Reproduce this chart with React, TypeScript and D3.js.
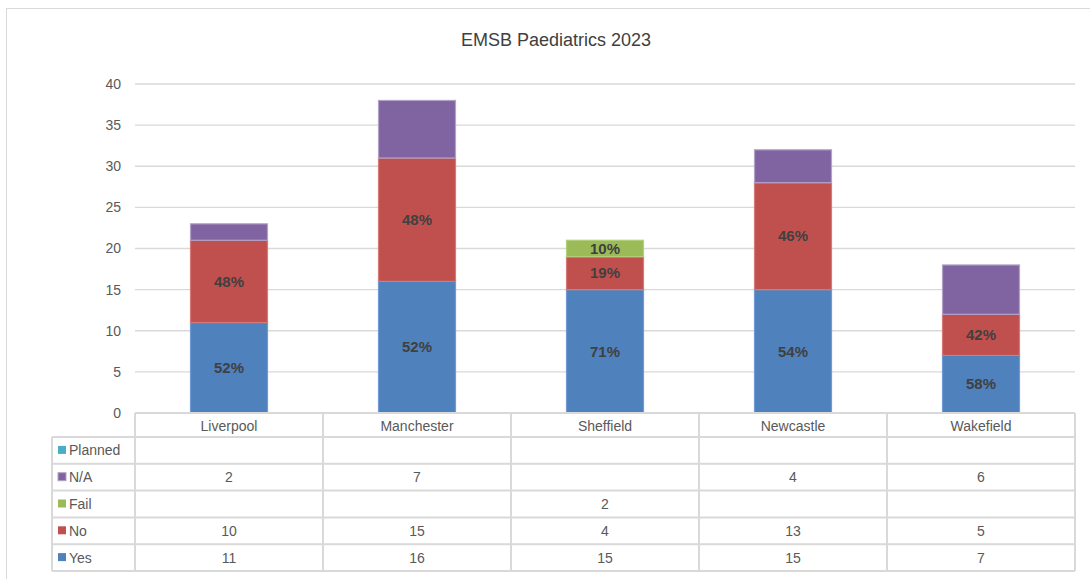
import * as d3 from 'd3';

const categories = ['Liverpool', 'Manchester', 'Sheffield', 'Newcastle', 'Wakefield'];
const yes = [11, 16, 15, 15, 7];
const no = [10, 15, 4, 13, 5];
const fail = [0, 0, 2, 0, 0];
const na = [2, 7, 0, 4, 6];
const planned = [0, 0, 0, 0, 0];
const yTicks = [0, 5, 10, 15, 20, 25, 30, 35, 40];

// stacking order bottom -> top
const series = [
  { name: 'Yes', values: yes, color: '#4F81BD', stroke: '#6F9AD3', pct: true },
  { name: 'No', values: no, color: '#C0504D', stroke: '#D67A77', pct: true },
  { name: 'Fail', values: fail, color: '#9BBB59', stroke: '#B2CF7A', pct: true },
  { name: 'N/A', values: na, color: '#8064A2', stroke: '#B3A2C7', pct: false },
  { name: 'Planned', values: planned, color: '#4BACC6', stroke: '#7FC6D8', pct: false },
];

const W = 1090;
const H = 579;
const left = 135;
const right = 1075;
const top = 84;
const bottom = 413;
const tableLeft = 52;
const headerH = 24;
const rowH = 26.8;
const font = '"Liberation Sans", Arial, sans-serif';

export default function App() {
  const x = d3.scaleBand().domain(categories).range([left, right]).paddingInner(0).paddingOuter(0);
  const y = d3.scaleLinear().domain([0, 40]).range([bottom, top]);
  const bw = 77;

  const stack = d3
    .stack<number>()
    .keys(series.map((s) => s.name))
    .value((i, key) => series.find((s) => s.name === key)!.values[i])(d3.range(categories.length));

  const tableRows = [...series].reverse(); // Planned on top
  const tableBottom = bottom + headerH + rowH * tableRows.length;

  return (
    <svg width={W} height={H} style={{ position: 'absolute', left: 0, top: 0, fontFamily: font }}>
      <rect x={6.5} y={8.5} width={W + 20} height={H + 20} fill="#fff" stroke="#d9d9d9" />
      <text x={556} y={46} textAnchor="middle" fontSize={18} fill="#404040">
        EMSB Paediatrics 2023
      </text>

      {yTicks.map((t) => (
        <g key={t}>
          {t > 0 && <line x1={left} x2={right} y1={y(t)} y2={y(t)} stroke="#d9d9d9" strokeWidth={1.3} />}
          <text x={121} y={y(t)} dy="0.35em" textAnchor="end" fontSize={14} fill="#595959">
            {t}
          </text>
        </g>
      ))}

      {stack.map((layer, si) => {
        const s = series[si];
        return (
          <g key={s.name}>
            {layer.map((d, i) => {
              if (d[1] - d[0] <= 0) return null;
              const cx = x(categories[i])! + x.bandwidth() / 2;
              return (
                <rect
                  key={i}
                  x={cx - bw / 2}
                  y={y(d[1])}
                  width={bw}
                  height={y(d[0]) - y(d[1])}
                  fill={s.color}
                  stroke={s.stroke}
                  strokeWidth={1.2}
                />
              );
            })}
          </g>
        );
      })}

      {stack.map((layer, si) => {
        const s = series[si];
        if (!s.pct) return null;
        return (
          <g key={s.name + 'lbl'}>
            {layer.map((d, i) => {
              const v = d[1] - d[0];
              if (v <= 0) return null;
              const total = yes[i] + no[i] + fail[i];
              const cx = x(categories[i])! + x.bandwidth() / 2;
              return (
                <text
                  key={i}
                  x={cx}
                  y={(y(d[0]) + y(d[1])) / 2}
                  dy="0.35em"
                  textAnchor="middle"
                  fontSize={15}
                  fontWeight="bold"
                  fill="#404040"
                >
                  {Math.round((v / total) * 100)}%
                </text>
              );
            })}
          </g>
        );
      })}

      {/* data table */}
      <g stroke="#d9d9d9" strokeWidth={2} fill="none">
        <line x1={left} x2={right} y1={bottom} y2={bottom} />
        {tableRows.map((_, r) => (
          <line key={r} x1={tableLeft} x2={right} y1={bottom + headerH + rowH * r} y2={bottom + headerH + rowH * r} />
        ))}
        <line x1={tableLeft} x2={right} y1={tableBottom} y2={tableBottom} />
        <line x1={tableLeft} x2={tableLeft} y1={bottom + headerH} y2={tableBottom} />
        {categories.map((c) => (
          <line key={c} x1={x(c)!} x2={x(c)!} y1={bottom} y2={tableBottom} />
        ))}
        <line x1={right} x2={right} y1={bottom} y2={tableBottom} />
      </g>

      {categories.map((c) => (
        <text
          key={c}
          x={x(c)! + x.bandwidth() / 2}
          y={bottom + headerH / 2 + 1}
          dy="0.35em"
          textAnchor="middle"
          fontSize={14}
          fill="#595959"
        >
          {c}
        </text>
      ))}

      {tableRows.map((s, r) => {
        const cy = bottom + headerH + rowH * r + rowH / 2;
        return (
          <g key={s.name}>
            <rect x={58} y={cy - 4.5} width={8} height={8} fill={s.color} stroke={s.name === 'N/A' ? s.stroke : 'none'} />
            <text x={69} y={cy} dy="0.35em" fontSize={14} fill="#595959">
              {s.name}
            </text>
            {s.values.map((v, i) =>
              v > 0 ? (
                <text
                  key={i}
                  x={x(categories[i])! + x.bandwidth() / 2}
                  y={cy}
                  dy="0.35em"
                  textAnchor="middle"
                  fontSize={14}
                  fill="#595959"
                >
                  {v}
                </text>
              ) : null
            )}
          </g>
        );
      })}
    </svg>
  );
}
